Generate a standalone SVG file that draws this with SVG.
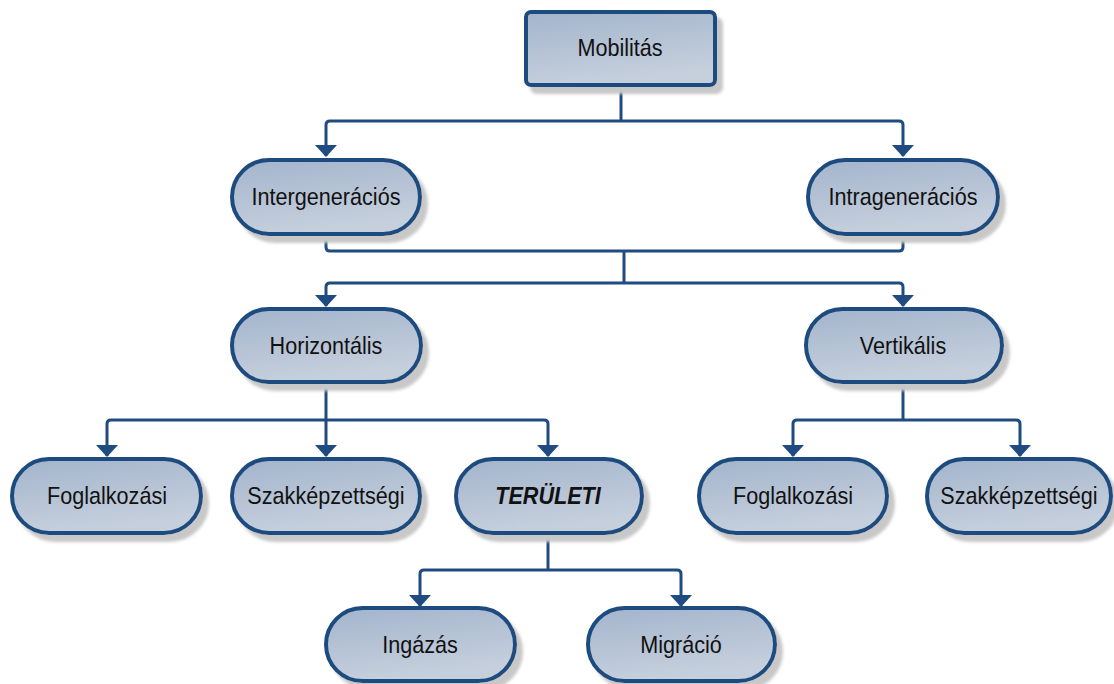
<svg xmlns="http://www.w3.org/2000/svg" width="1114" height="684" viewBox="0 0 1114 684">
<style>
.box{fill:url(#g);stroke:#1f4b80;stroke-width:4;filter:url(#sh)}
.t{font-family:"Liberation Sans",Arial,sans-serif;font-size:24px;fill:#111;text-anchor:middle}
.b{font-weight:bold;font-style:italic}
.c{fill:none;stroke:#1f4b80;stroke-width:3;stroke-linejoin:round}
</style>
<defs>
<linearGradient id="g" x1="0" y1="0" x2="0.3" y2="1">
<stop offset="0" stop-color="#a3b4cc"/>
<stop offset="1" stop-color="#c6d0dd"/>
</linearGradient>
<filter id="sh" x="-10%" y="-20%" width="130%" height="150%">
<feGaussianBlur in="SourceAlpha" stdDeviation="1.5" result="bl"/>
<feOffset in="bl" dx="6" dy="7" result="of"/>
<feFlood flood-color="#c8c8c8"/>
<feComposite in2="of" operator="in" result="s"/>
<feMerge><feMergeNode in="s"/><feMergeNode in="SourceGraphic"/></feMerge>
</filter>
<marker id="ar" viewBox="0 0 12 22" refX="11" refY="11" markerWidth="12" markerHeight="22" markerUnits="userSpaceOnUse" orient="auto">
<path d="M0,0 L12,11 L0,22 Z" fill="#1f4b80"/>
</marker>
</defs>
<g id="connectors">
<path class="c" d="M621,86 V121"/>
<path class="c" d="M621,121 H330 Q326,121 326,125 V156" marker-end="url(#ar)"/>
<path class="c" d="M621,121 H899 Q903,121 903,125 V156" marker-end="url(#ar)"/>
<path class="c" d="M326,235 V247 Q326,251 330,251 H899 Q903,251 903,247 V235"/>
<path class="c" d="M624,251 V283"/>
<path class="c" d="M624,283 H330 Q326,283 326,287 V306" marker-end="url(#ar)"/>
<path class="c" d="M624,283 H899 Q903,283 903,287 V306" marker-end="url(#ar)"/>
<path class="c" d="M326,383 V420"/>
<path class="c" d="M326,420 H111 Q107,420 107,424 V456" marker-end="url(#ar)"/>
<path class="c" d="M326,420 V456" marker-end="url(#ar)"/>
<path class="c" d="M326,420 H544 Q548,420 548,424 V456" marker-end="url(#ar)"/>
<path class="c" d="M903,383 V420"/>
<path class="c" d="M903,420 H797 Q793,420 793,424 V456" marker-end="url(#ar)"/>
<path class="c" d="M903,420 H1016 Q1020,420 1020,424 V456" marker-end="url(#ar)"/>
<path class="c" d="M548,535 V570"/>
<path class="c" d="M548,570 H424 Q420,570 420,574 V606" marker-end="url(#ar)"/>
<path class="c" d="M548,570 H677 Q681,570 681,574 V606" marker-end="url(#ar)"/>
</g>
<g id="n-mobilitas"><rect class="box" x="526" y="12" width="189" height="73" rx="5"/><text class="t" transform="translate(620 56) scale(0.9 1)">Mobilitás</text></g>
<g id="n-intergen"><rect class="box" x="232" y="160" width="188" height="74" rx="37"/><text class="t" transform="translate(326 205) scale(0.9 1)">Intergenerációs</text></g>
<g id="n-intragen"><rect class="box" x="808" y="160" width="190" height="74" rx="37"/><text class="t" transform="translate(903 205) scale(0.9 1)">Intragenerációs</text></g>
<g id="n-horizontalis"><rect class="box" x="232" y="309" width="189" height="73" rx="36.5"/><text class="t" transform="translate(326 354) scale(0.9 1)">Horizontális</text></g>
<g id="n-vertikalis"><rect class="box" x="806" y="309" width="196" height="73" rx="36.5"/><text class="t" transform="translate(903 354) scale(0.9 1)">Vertikális</text></g>
<g id="n-foglalkozasi1"><rect class="box" x="12" y="459" width="189" height="74" rx="37"/><text class="t" transform="translate(107 504) scale(0.9 1)">Foglalkozási</text></g>
<g id="n-szakkepzettsegi1"><rect class="box" x="232" y="459" width="188" height="74" rx="37"/><text class="t" transform="translate(326 504) scale(0.9 1)">Szakképzettségi</text></g>
<g id="n-teruleti"><rect class="box" x="456" y="459" width="186" height="74" rx="37"/><text class="t b" transform="translate(548 504) scale(0.9 1)">TERÜLETI</text></g>
<g id="n-foglalkozasi2"><rect class="box" x="699" y="459" width="188" height="74" rx="37"/><text class="t" transform="translate(793 504) scale(0.9 1)">Foglalkozási</text></g>
<g id="n-szakkepzettsegi2"><rect class="box" x="927" y="459" width="184" height="74" rx="37"/><text class="t" transform="translate(1019 504) scale(0.9 1)">Szakképzettségi</text></g>
<g id="n-ingazas"><rect class="box" x="326" y="608" width="189" height="73" rx="36.5"/><text class="t" transform="translate(420 653) scale(0.9 1)">Ingázás</text></g>
<g id="n-migracio"><rect class="box" x="588" y="608" width="187" height="73" rx="36.5"/><text class="t" transform="translate(681 653) scale(0.9 1)">Migráció</text></g>
</svg>
